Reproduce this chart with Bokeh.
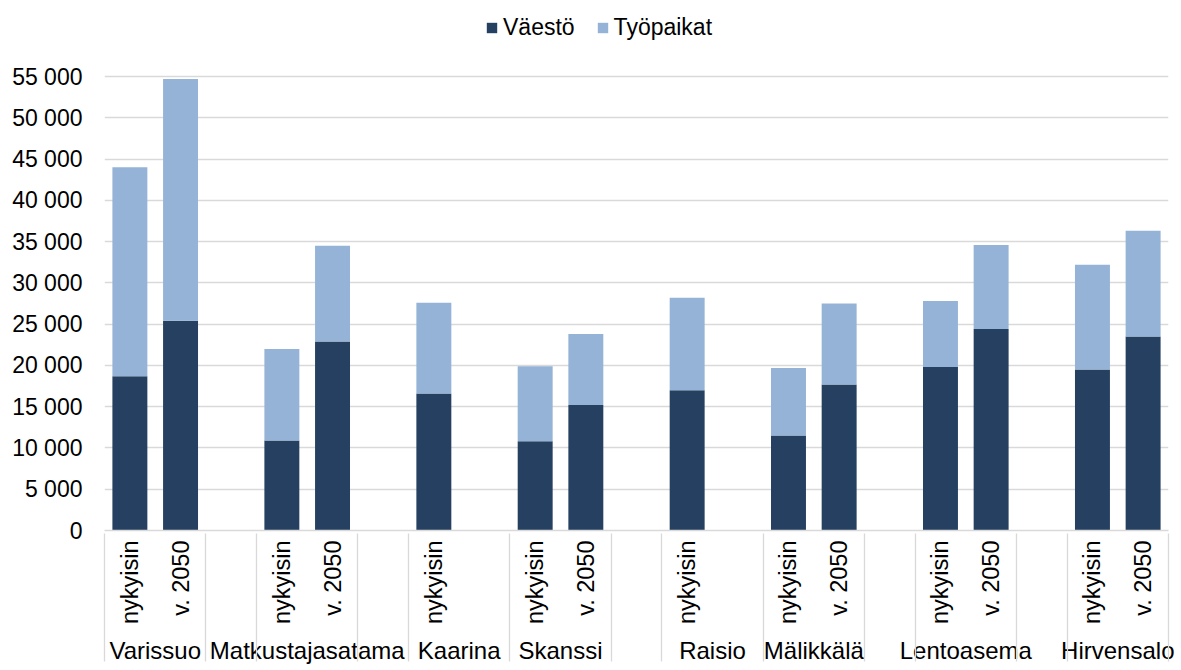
from math import pi

from bokeh.plotting import figure
from bokeh.models import (ColumnDataSource, FactorRange, Range1d, FixedTicker,
                          CustomJSTickFormatter, Legend, LegendItem)
from bokeh.embed import file_html
from bokeh.resources import INLINE

# --- data ---------------------------------------------------------------
areas = ["Varissuo", "Varissuo", "Matkustajasatama", "Matkustajasatama",
         "Kaarina", "Skanssi", "Skanssi", "Raisio", "Mälikkälä", "Mälikkälä",
         "Lentoasema", "Lentoasema", "Hirvensalo", "Hirvensalo"]
periods = ["nykyisin", "v. 2050", "nykyisin", "v. 2050",
           "nykyisin", "nykyisin", "v. 2050", "nykyisin", "nykyisin", "v. 2050",
           "nykyisin", "v. 2050", "nykyisin", "v. 2050"]
vaesto = [18700, 25400, 10900, 22900, 16600, 10800, 15200,
          17000, 11500, 17700, 19800, 24400, 19500, 23500]
tyopaikat = [25300, 29300, 11100, 11600, 11000, 9100, 8600,
             11200, 8200, 9800, 8000, 10200, 12700, 12800]
series = ["Väestö", "Työpaikat"]
colors = ["#264061", "#95B3D7"]
y_ticks = list(range(0, 55001, 5000))
y_max = 55000

# category layout: empty slots separate the areas on the axis; the two
# outermost slots lie just outside the visible range so that the axis
# draws a divider at each end as well
axis_factors = [
    ("", ""),
    ("Varissuo", "nykyisin"), ("Varissuo", "v. 2050"), (" ", ""),
    ("Matkustajasatama", "nykyisin"), ("Matkustajasatama", "v. 2050"), ("  ", ""),
    ("Kaarina", "nykyisin"), ("Kaarina", ""),
    ("Skanssi", "nykyisin"), ("Skanssi", "v. 2050"), ("   ", ""),
    ("Raisio", "nykyisin"), ("Raisio", ""),
    ("Mälikkälä", "nykyisin"), ("Mälikkälä", "v. 2050"), ("    ", ""),
    ("Lentoasema", "nykyisin"), ("Lentoasema", "v. 2050"), ("     ", ""),
    ("Hirvensalo", "nykyisin"), ("Hirvensalo", "v. 2050"),
    ("      ", ""),
]

source = ColumnDataSource(dict(
    x=list(zip(areas, periods)),
    **{"Väestö": vaesto, "Työpaikat": tyopaikat},
))

FONT = "Liberation Sans"
FS = "23px"
GRID = "#D9D9D9"

W, H = 1181, 670
TOP_GAP = 76        # room above the plot for the legend
BOTTOM = 140        # room below the plot for the category labels
frame_h = H - BOTTOM
y_end = y_max * frame_h / (frame_h - TOP_GAP)

p = figure(
    width=W, height=H,
    x_range=FactorRange(factors=axis_factors, group_padding=0,
                        factor_padding=0, range_padding=-0.999,
                        range_padding_units="absolute"),
    y_range=Range1d(0, y_end),
    output_backend="svg", toolbar_location=None,
    min_border_left=104, min_border_right=13,
    min_border_top=0, min_border_bottom=BOTTOM,
)
p.outline_line_color = None
p.background_fill_color = "white"
p.border_fill_color = "white"

renderers = p.vbar_stack(series, x="x", width=0.69, source=source,
                         color=colors, line_color=None)

# y axis
p.yaxis.ticker = FixedTicker(ticks=y_ticks)
p.yaxis.formatter = CustomJSTickFormatter(code="""
    return tick.toFixed(0).replace(/\\B(?=(\\d{3})+(?!\\d))/g, ' ');
""")
p.yaxis.axis_line_color = None
p.yaxis.major_tick_line_color = None
p.yaxis.minor_tick_line_color = None
p.yaxis.major_tick_out = 0
p.yaxis.major_tick_in = 0
p.yaxis.major_label_standoff = 22
p.yaxis.major_label_text_font = FONT
p.yaxis.major_label_text_font_size = FS
p.yaxis.major_label_text_color = "black"

p.ygrid.grid_line_color = GRID
p.ygrid.grid_line_width = 1.3
p.xgrid.grid_line_color = None

# x axis (two-level categories)
xa = p.xaxis[0]
xa.axis_line_color = GRID
xa.axis_line_width = 1.3
xa.major_tick_line_color = None
xa.minor_tick_line_color = None
xa.major_tick_out = 0
xa.major_tick_in = 0
xa.major_label_orientation = pi / 2
xa.major_label_standoff = 10
xa.major_label_text_font = FONT
xa.major_label_text_font_size = "23.5px"
xa.major_label_text_color = "black"
xa.group_text_font = FONT
xa.group_text_font_size = "24px"
xa.group_text_font_style = "normal"
xa.group_text_color = "black"
xa.separator_line_color = GRID
xa.separator_line_width = 1.3

legend = Legend(
    items=[LegendItem(label=s, renderers=[r]) for s, r in zip(series, renderers)],
    orientation="horizontal",
    location=(381, 489),
    glyph_width=13, glyph_height=13,
    label_standoff=5, spacing=21,
    padding=0, margin=0,
    border_line_color=None, background_fill_alpha=0,
    label_text_font=FONT, label_text_font_size=FS, label_text_color="black",
)
p.add_layout(legend)

open("out.html", "w").write(file_html(p, INLINE))
